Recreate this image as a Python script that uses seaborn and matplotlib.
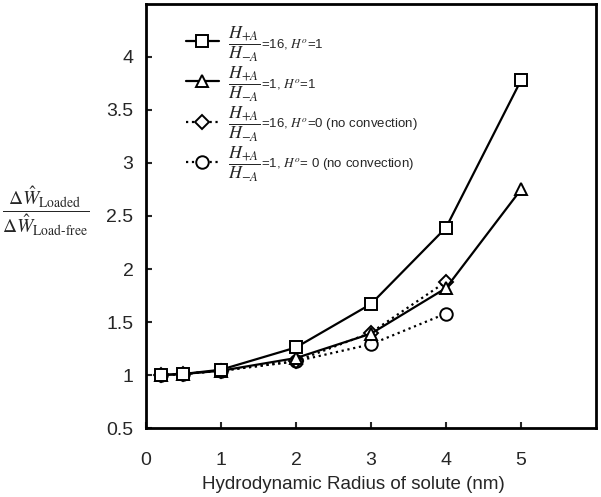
import numpy as np
import pandas as pd
import seaborn as sns
import matplotlib
matplotlib.use("Agg")
from matplotlib import pyplot as plt

# hydrodynamic radius (nm)
radius = [0.2, 0.5, 1, 2, 3, 4, 5]
radius_nc = [0.2, 0.5, 1, 2, 3, 4]

ratio16_h1 = [1.00, 1.01, 1.05, 1.26, 1.67, 2.39, 3.78]
ratio1_h1 = [1.00, 1.01, 1.04, 1.16, 1.39, 1.82, 2.75]
ratio16_h0 = [1.00, 1.01, 1.04, 1.13, 1.40, 1.88]
ratio1_h0 = [1.00, 1.01, 1.04, 1.13, 1.29, 1.58]

frac = r"$\dfrac{H_{+A}}{H_{-A}}$"
tails = [
    r"=16, $\mathit{H}^o$=1",
    r"=1, $\mathit{H}^o$=1",
    r"=16, $\mathit{H}^o$=0 (no convection)",
    r"=1, $\mathit{H}^o$= 0 (no convection)",
]
keys = ["a", "b", "c", "d"]

sns.set_style("ticks")
plt.rcParams["font.family"] = ["Liberation Sans", "DejaVu Sans"]
plt.rcParams["mathtext.fontset"] = "stix"

fig = plt.figure(figsize=(6.01, 4.97), dpi=100)
ax = fig.add_axes([0.2429, 0.1388, 0.7488, 0.8532])

series = [
    (radius, ratio16_h1, "s", "-"),
    (radius, ratio1_h1, "^", "-"),
    (radius_nc, ratio16_h0, "D", ":"),
    (radius_nc, ratio1_h0, "o", ":"),
]
# draw no-convection lines first so solid lines sit on top
for i in [3, 2, 1, 0]:
    xs, ys, mk, ls = series[i]
    df = pd.DataFrame({"r": xs, "v": ys})
    sns.lineplot(data=df, x="r", y="v", ax=ax, color="black", linestyle=ls,
                 linewidth=1.6, marker=mk, markersize=9 if mk != "D" else 7.5,
                 markerfacecolor="white", markeredgecolor="black",
                 markeredgewidth=1.4, label=keys[i])

ax.set_xlim(0, 6)
ax.set_ylim(0.5, 4.5)
ax.set_xticks([0, 1, 2, 3, 4, 5])
ax.set_yticks([0.5, 1, 1.5, 2, 2.5, 3, 3.5, 4])
ax.set_yticklabels(["0.5", "1", "1.5", "2", "2.5", "3", "3.5", "4"])
ax.tick_params(direction="in", length=4, width=1.5, labelsize=14)
ax.tick_params(axis="x", pad=17)
ax.tick_params(axis="y", pad=9)
for sp in ax.spines.values():
    sp.set_linewidth(2)
    sp.set_color("black")

ax.set_xlabel("Hydrodynamic Radius of solute (nm)", fontsize=13.5)
ax.xaxis.set_label_coords(0.46, -0.113)
ax.set_ylabel(r"$\dfrac{\Delta\hat{W}_{\rm Loaded}}{\Delta\hat{W}_{\rm Load\text{-}free}}$",
              fontsize=14, rotation=0, va="center", ha="center")
ax.yaxis.set_label_coords(-0.222, 0.51)

handles, labs = ax.get_legend_handles_labels()
order = [labs.index(k) for k in keys]
leg = ax.legend([handles[i] for i in order], [frac] * 4,
                loc="upper left", bbox_to_anchor=(0.053, 0.99), frameon=False,
                fontsize=13, handlelength=1.8, labelspacing=0.05,
                handletextpad=0.5)
# the rest of each label sits right after the fraction, in smaller type
for txt, tail in zip(leg.get_texts(), tails):
    ax.annotate(tail, xy=(1, 0.5), xycoords=txt, xytext=(1, 0),
                textcoords="offset points", va="center", ha="left",
                fontsize=9.5, zorder=6)

fig.savefig("out.png", dpi=100)
